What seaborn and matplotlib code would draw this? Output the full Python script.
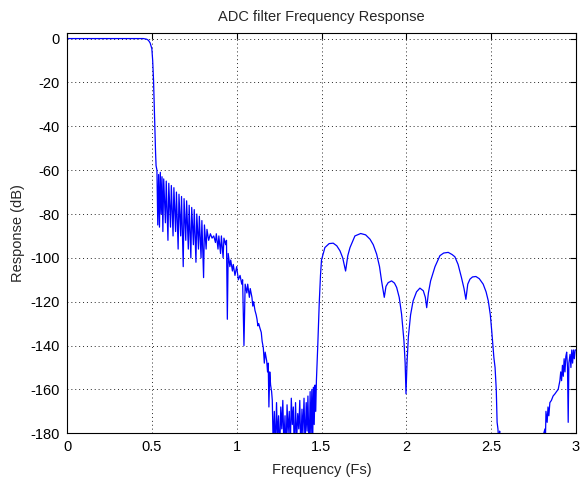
import matplotlib
matplotlib.use("Agg")
import matplotlib.pyplot as plt
import seaborn as sns
import pandas as pd

# ---- data (frequency in Fs, response in dB) ----
passband_f = [0.0, 0.1, 0.2, 0.3, 0.4, 0.45, 0.47, 0.48, 0.49, 0.50, 0.505, 0.51, 0.514, 0.518, 0.522, 0.525]
passband_db = [0, 0, 0, 0, 0, 0, -0.3, -0.8, -2, -4.6, -10, -19, -30, -42, -52, -58]

ripple_f = [0.530, 0.535, 0.540, 0.545, 0.550, 0.555, 0.560, 0.565, 0.570, 0.580,
            0.585, 0.595, 0.600, 0.610, 0.615, 0.625, 0.630, 0.640, 0.645, 0.655,
            0.660, 0.670, 0.675, 0.685, 0.690, 0.700, 0.705, 0.715, 0.720, 0.730,
            0.735, 0.745, 0.750, 0.760, 0.765, 0.775, 0.780, 0.790, 0.795, 0.805,
            0.810, 0.820, 0.825, 0.835, 0.845, 0.855, 0.865, 0.875, 0.880, 0.890,
            0.895, 0.905, 0.910, 0.920, 0.925, 0.935, 0.940, 0.945, 0.950, 0.960,
            0.965, 0.975, 0.980, 0.990, 1.000, 1.010, 1.020, 1.030, 1.035, 1.043,
            1.050, 1.060, 1.065, 1.075, 1.080, 1.090, 1.095, 1.100, 1.108, 1.115,
            1.120, 1.125, 1.130, 1.137, 1.145, 1.150, 1.157, 1.163, 1.168, 1.177,
            1.182, 1.186, 1.190, 1.195, 1.200, 1.206, 1.210]
ripple_db = [-60, -85, -62, -86, -61, -80, -63, -88, -64, -84,
             -65, -92, -66, -86, -67, -90, -68, -88, -70, -96,
             -71, -90, -72, -104, -73, -92, -74, -96, -76, -100,
             -77, -94, -78, -102, -80, -96, -81, -100, -83, -109,
             -85, -96, -87, -92, -89, -91, -90, -93, -89, -96,
             -90, -98, -90, -100, -91, -94, -92, -128, -98, -104,
             -101, -106, -103, -108, -104, -110, -108, -112, -110, -140,
             -112, -116, -112, -118, -114, -118, -122, -120, -124, -126,
             -128, -131, -130, -132, -134, -138, -141, -148, -143, -147,
             -152, -148, -168, -152, -158, -161, -165]

floor_f = [1.215, 1.222, 1.228, 1.235, 1.240, 1.247, 1.253, 1.260, 1.266, 1.272,
           1.278, 1.285, 1.290, 1.297, 1.303, 1.310, 1.316, 1.322, 1.328, 1.334,
           1.340, 1.347, 1.353, 1.360, 1.366, 1.372, 1.378, 1.385, 1.390, 1.397,
           1.403, 1.410, 1.415, 1.420, 1.427, 1.433, 1.438, 1.443, 1.448, 1.452,
           1.457, 1.462, 1.466, 1.470, 1.478, 1.487, 1.494]
floor_db = [-185, -170, -188, -166, -182, -172, -190, -168, -178, -165,
            -185, -172, -192, -167, -180, -170, -187, -164, -176, -168,
            -190, -166, -184, -171, -178, -165, -188, -169, -181, -164,
            -186, -166, -179, -163, -190, -161, -182, -160, -185, -159,
            -176, -158, -170, -156, -140, -120, -108]

lobes_f = [1.500, 1.520, 1.545, 1.569, 1.590, 1.609, 1.625, 1.642, 1.655, 1.668,
           1.697, 1.731, 1.760, 1.786, 1.805, 1.825, 1.842, 1.854, 1.870, 1.880,
           1.893, 1.913, 1.930, 1.943, 1.958, 1.972, 1.986, 1.993, 1.998, 2.004,
           2.012, 2.025, 2.040, 2.060, 2.080, 2.100, 2.112, 2.120, 2.130, 2.143,
           2.169, 2.198, 2.220, 2.247, 2.270, 2.286, 2.305, 2.325, 2.340, 2.351,
           2.362, 2.375, 2.390, 2.410, 2.430, 2.453, 2.470, 2.483, 2.495, 2.503,
           2.510, 2.516, 2.523, 2.530, 2.535, 2.540, 2.545, 2.550, 2.555]
lobes_db = [-101, -95.3, -93.5, -93.3, -94.5, -96.8, -100, -106, -99, -95.3,
            -90, -88.9, -89.5, -91.5, -94, -98.3, -104, -110.5, -118, -113,
            -111.3, -110.5, -111.5, -113.5, -118, -125.7, -137.9, -148, -162, -148,
            -136, -126, -119.6, -115.5, -113.8, -115, -118, -122.7, -116, -110.5,
            -104, -99, -97.8, -97.5, -98.5, -99.5, -103, -109, -114, -118.9,
            -112, -109.7, -108.7, -108.5, -109.5, -112, -115.5, -119.6, -126, -133,
            -140, -145.5, -150, -160, -175, -178, -185, -179, -195]

tail_f = [2.700, 2.800, 2.803, 2.810, 2.817, 2.820, 2.823, 2.830, 2.835, 2.840,
          2.846, 2.855, 2.865, 2.876, 2.885, 2.895, 2.905, 2.910, 2.915, 2.920,
          2.925, 2.930, 2.935, 2.940, 2.945, 2.950, 2.954, 2.958, 2.965, 2.970,
          2.975, 2.980, 2.985, 2.990, 2.995, 3.000]
tail_db = [-200, -195, -185, -180, -178, -182, -170, -175, -168, -172,
           -166, -165, -163, -162, -161, -160, -156, -152, -156, -149,
           -154, -146, -152, -145, -143, -150, -175, -148, -144, -150,
           -142, -148, -142, -146, -142, -142]

x_ticks = [0, 0.5, 1, 1.5, 2, 2.5, 3]
x_ticklabels = ["0", "0.5", "1", "1.5", "2", "2.5", "3"]
y_ticks = [0, -20, -40, -60, -80, -100, -120, -140, -160, -180]
y_ticklabels = ["0", "-20", "-40", "-60", "-80", "-100", "-120", "-140", "-160", "-180"]

freq = passband_f + ripple_f + floor_f + lobes_f + tail_f
resp = passband_db + ripple_db + floor_db + lobes_db + tail_db
df = pd.DataFrame({"Frequency": freq, "Response": resp})

sns.set_style("white")
plt.rcParams["font.family"] = ["Liberation Sans", "DejaVu Sans"]

fig = plt.figure(figsize=(5.81, 4.83), dpi=100)
ax = fig.add_axes([67 / 581, 1 - 433.3 / 483, (576 - 67) / 581, (433.3 - 33.3) / 483])

sns.lineplot(data=df, x="Frequency", y="Response", ax=ax, sort=False,
             estimator=None, color="#0000ff", linewidth=0.9)

ax.set_xlim(0, 3)
ax.set_ylim(-180, 2.4)
ax.set_xticks(x_ticks)
ax.set_xticklabels(x_ticklabels)
ax.set_yticks(y_ticks)
ax.set_yticklabels(y_ticklabels)

ax.grid(True, color="black", linestyle=(0, (1, 3)), linewidth=0.7, alpha=0.85)
ax.set_axisbelow(True)
for s in ax.spines.values():
    s.set_color("black")
    s.set_linewidth(0.8)
    s.set_visible(True)

ax.tick_params(direction="in", length=4, width=0.8, colors="black",
               top=True, right=True, labelsize=10.5, pad=5)

ax.set_title("ADC filter Frequency Response", fontsize=10.5, pad=9)
ax.set_xlabel("Frequency (Fs)", fontsize=10.5, labelpad=6)
ax.set_ylabel("Response (dB)", fontsize=10.5, labelpad=4)

fig.savefig("out.png", dpi=100, facecolor="white")
